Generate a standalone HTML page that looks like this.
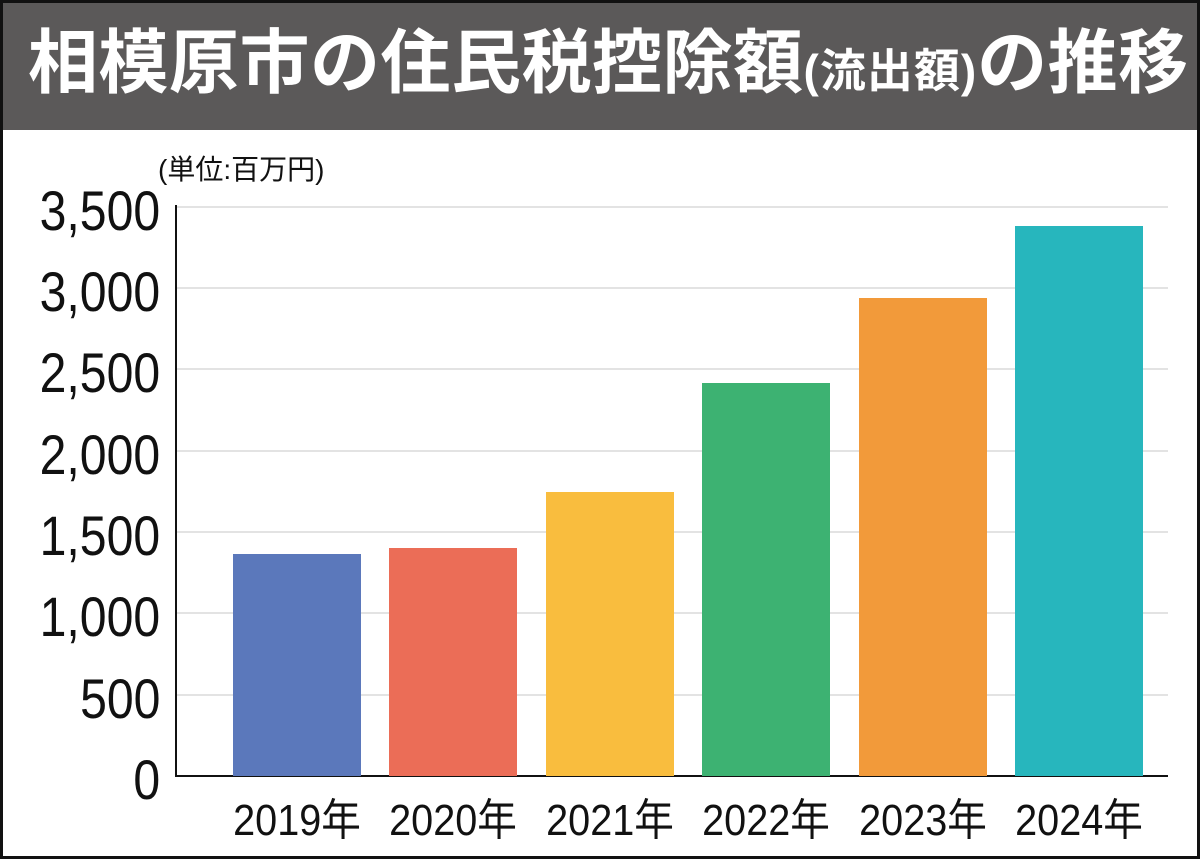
<!DOCTYPE html>
<html><head><meta charset="utf-8"><style>
body{margin:0;width:1200px;height:859px;overflow:hidden;background:#fff;font-family:"Liberation Sans","Noto Sans CJK JP",sans-serif}
.frame{position:absolute;left:0;top:0;width:1194px;height:853px;border:3px solid #111;}
.title{position:absolute;left:0;top:0;width:1200px;height:130px;background:#5b5959;}
.title span{position:absolute;left:28px;top:18px;color:#fff;font-weight:bold;font-size:70px;line-height:90px;white-space:nowrap;letter-spacing:0.5px}
.title small{font-size:46px;letter-spacing:1px}
.t{position:absolute;white-space:nowrap;color:#111}
.yl{font-size:56px;right:1040px;transform:scaleX(0.86);transform-origin:right center;line-height:56px}
.xl{font-size:44px;top:796px;transform:scaleX(0.9);line-height:50px;width:200px;text-align:center}
.g{position:absolute;left:176px;width:992px;height:2px;background:#e3e3e3}
.bar{position:absolute;width:128px;bottom:83px}
</style></head><body>
<div class="title"><span>相模原市の住民税控除額<small>(流出額)</small>の推移</span></div>
<div class="t" style="left:158px;top:148px;font-size:28px">(単位:百万円)</div>
<div class="g" style="top:206px"></div>
<div class="g" style="top:287px"></div>
<div class="g" style="top:368px"></div>
<div class="g" style="top:450px"></div>
<div class="g" style="top:531px"></div>
<div class="g" style="top:612px"></div>
<div class="g" style="top:694px"></div>
<div style="position:absolute;left:175px;top:205px;width:2px;height:572px;background:#111"></div>
<div style="position:absolute;left:175px;top:775px;width:993px;height:2px;background:#111"></div>
<div class="bar" style="left:233px;height:222px;background:#5b78bb"></div>
<div class="bar" style="left:389px;height:228px;background:#eb6d57"></div>
<div class="bar" style="left:546px;height:284px;background:#f9bd3e"></div>
<div class="bar" style="left:702px;height:393px;background:#3db272"></div>
<div class="bar" style="left:859px;height:478px;background:#f29a3a"></div>
<div class="bar" style="left:1015px;height:550px;background:#27b6bd"></div>
<div class="t yl" style="top:183px">3,500</div>
<div class="t yl" style="top:264px">3,000</div>
<div class="t yl" style="top:345px">2,500</div>
<div class="t yl" style="top:427px">2,000</div>
<div class="t yl" style="top:508px">1,500</div>
<div class="t yl" style="top:589px">1,000</div>
<div class="t yl" style="top:671px">500</div>
<div class="t yl" style="top:752px">0</div>
<div class="t xl" style="left:197px">2019年</div>
<div class="t xl" style="left:353px">2020年</div>
<div class="t xl" style="left:510px">2021年</div>
<div class="t xl" style="left:666px">2022年</div>
<div class="t xl" style="left:823px">2023年</div>
<div class="t xl" style="left:979px">2024年</div>
<div class="frame"></div>
</body></html>
